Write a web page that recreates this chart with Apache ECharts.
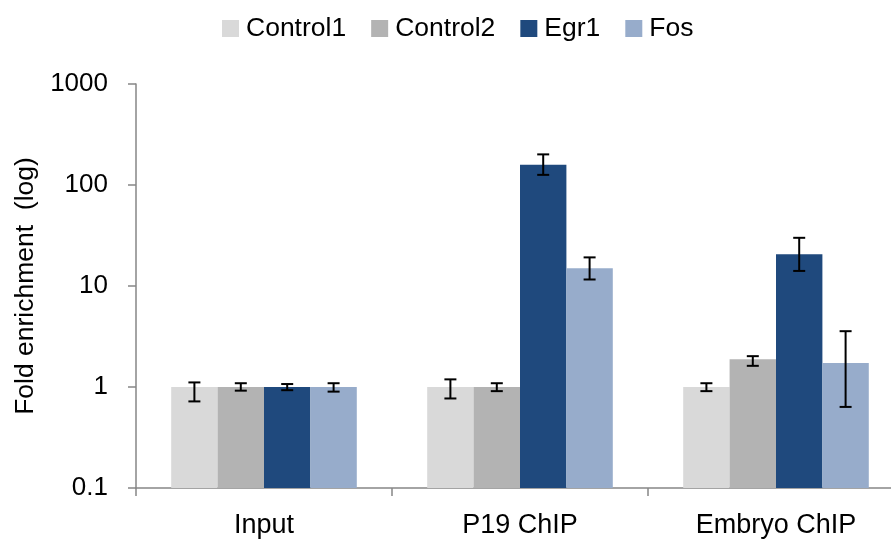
<!DOCTYPE html>
<html>
<head>
<meta charset="utf-8">
<script src="https://cdn.jsdelivr.net/npm/echarts@6/dist/echarts.min.js"></script>
<style>html,body{margin:0;padding:0;background:#fff;overflow:hidden;}#c{width:904px;height:539px;}</style>
</head>
<body>
<div id="c"></div>
<script>
const categories = ['Input', 'P19 ChIP', 'Embryo ChIP'];
const seriesNames = ['Control1', 'Control2', 'Egr1', 'Fos'];
const control1 = [1, 1, 1];
const control2 = [1, 1, 1.88];
const egr1 = [1, 159, 20.6];
const fos = [1, 15.0, 1.73];
const control1Low = [0.72, 0.77, 0.91];
const control1High = [1.11, 1.19, 1.09];
const control2Low = [0.92, 0.91, 1.62];
const control2High = [1.09, 1.09, 2.02];
const egr1Low = [0.93, 126, 14.1];
const egr1High = [1.07, 201, 30.0];
const fosLow = [0.90, 11.6, 0.635];
const fosHigh = [1.09, 19.2, 3.57];
const yTicks = [0.1, 1, 10, 100, 1000];
const yMin = 0.1, yMax = 1000;

const colors = ['#D9D9D9', '#B3B3B3', '#1F497D', '#97ACCB'];
const values = [control1, control2, egr1, fos];
const lows = [control1Low, control2Low, egr1Low, fosLow];
const highs = [control1High, control2High, egr1High, fosHigh];
const catGap = 0.275;
const FONT = 'Liberation Sans';

function slot(api, j, i) {
  const c0 = api.coord([0, 1])[0], c1 = api.coord([1, 1])[0];
  const catW = c1 - c0;
  const groupW = catW * (1 - catGap);
  const barW = groupW / 4;
  const center = api.coord([j, 1])[0];
  return { x: center - groupW / 2 + barW * i, w: barW };
}

const barSeries = seriesNames.map((n, i) => ({
  name: n, type: 'custom', z: 2,
  itemStyle: { color: colors[i] },
  data: categories.map((c, j) => [j, values[i][j]]),
  encode: { x: 0, y: 1 },
  renderItem: function (params, api) {
    const j = api.value(0);
    const s = slot(api, j, i);
    const top = api.coord([j, api.value(1)])[1];
    const base = api.coord([j, yMin])[1];
    return { type: 'rect', shape: { x: s.x, y: top, width: s.w, height: base - top },
      style: { fill: colors[i] } };
  }
}));

const errSeries = seriesNames.map((n, i) => ({
  type: 'custom', name: n + ' err', z: 5, silent: true,
  data: categories.map((c, j) => [j, lows[i][j], highs[i][j]]),
  encode: { x: 0, y: [1, 2] },
  renderItem: function (params, api) {
    const j = api.value(0);
    const s = slot(api, j, i);
    const x = s.x + s.w / 2;
    const lo = api.coord([j, api.value(1)])[1];
    const hi = api.coord([j, api.value(2)])[1];
    const cap = 6;
    const st = { stroke: '#000', lineWidth: 2 };
    return { type: 'group', children: [
      { type: 'line', shape: { x1: x, y1: lo, x2: x, y2: hi }, style: st },
      { type: 'line', shape: { x1: x - cap, y1: lo, x2: x + cap, y2: lo }, style: st },
      { type: 'line', shape: { x1: x - cap, y1: hi, x2: x + cap, y2: hi }, style: st }
    ]};
  }
}));

const chart = echarts.init(document.getElementById('c'));
chart.setOption({
  animation: false,
  backgroundColor: '#fff',
  legend: {
    data: seriesNames.map((n, i) => ({ name: n, icon: 'rect', itemStyle: { color: colors[i] } })),
    left: 222, top: 15, padding: 0, itemWidth: 17, itemHeight: 17, itemGap: 25,
    textStyle: { fontFamily: FONT, fontSize: 26.5, color: '#000', padding: [0, 0, 0, 2] }
  },
  grid: { left: 136, right: 0, top: 84, bottom: 50, containLabel: false },
  xAxis: {
    type: 'category', data: categories,
    axisLine: { lineStyle: { color: '#868686', width: 1.5 } },
    axisTick: { show: true, length: 8, lineStyle: { color: '#868686', width: 1.5 } },
    axisLabel: { fontFamily: FONT, fontSize: 27, color: '#000', margin: 24 }
  },
  yAxis: {
    type: 'log', logBase: 10, min: yMin, max: yMax,
    name: 'Fold enrichment  (log)', nameLocation: 'middle', nameGap: 95,
    nameTextStyle: { fontFamily: FONT, fontSize: 26.5, color: '#000' },
    axisLine: { show: true, lineStyle: { color: '#868686', width: 1.5 } },
    axisTick: { show: true, length: 8, lineStyle: { color: '#868686', width: 1.5 } },
    splitLine: { show: false },
    axisLabel: { fontFamily: FONT, fontSize: 26, color: '#000', margin: 28,
      formatter: v => { const t = yTicks.find(k => Math.abs(k - v) / k < 1e-6); return t === undefined ? '' : String(t); } }
  },
  series: barSeries.concat(errSeries)
});
</script>
</body>
</html>
